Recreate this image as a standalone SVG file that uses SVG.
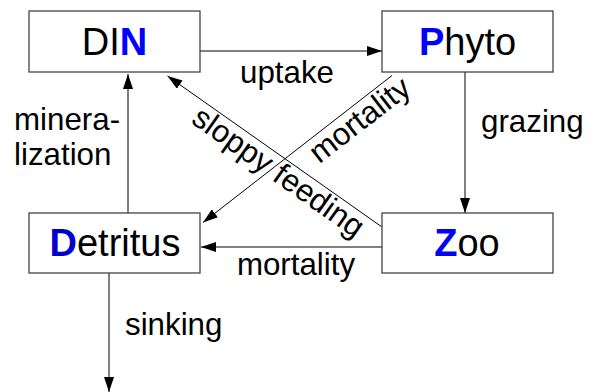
<svg xmlns="http://www.w3.org/2000/svg" width="596" height="392" viewBox="0 0 596 392">
<style>
  .box{fill:#fff;stroke:#444;stroke-width:1.3}
  .title{font-family:"Liberation Sans",Arial,sans-serif;font-size:38px;fill:#000;text-anchor:middle}
  .lbl{font-family:"Liberation Sans",Arial,sans-serif;font-size:31.3px;fill:#000}
  .conn{stroke:#000;stroke-width:1;fill:none;marker-end:url(#ah)}
  .b{fill:#0000ff;font-weight:bold}
  .bd{fill:#0000cc;font-weight:bold}
</style>
<defs>
  <marker id="ah" markerUnits="userSpaceOnUse" markerWidth="15" markerHeight="10" refX="15" refY="5" orient="auto">
    <path d="M0,0 L15,5 L0,10 z" fill="#000"/>
  </marker>
</defs>
<rect width="596" height="392" fill="#fff"/>
<g id="connectors">
  <line class="conn" x1="200" y1="51" x2="382" y2="51"/>
  <line class="conn" x1="128" y1="213" x2="128" y2="74"/>
  <line class="conn" x1="382" y1="227" x2="167.5" y2="76"/>
  <line class="conn" x1="392" y1="75.5" x2="203" y2="222.5"/>
  <line class="conn" x1="465" y1="72" x2="465" y2="213"/>
  <line class="conn" x1="382" y1="247" x2="201" y2="247"/>
  <line class="conn" x1="109" y1="273" x2="109" y2="392"/>
  <text class="lbl" x="287" y="83" text-anchor="middle">uptake</text>
  <text class="lbl" x="481" y="132">grazing</text>
  <text class="lbl" x="14" y="130">minera-</text>
  <text class="lbl" x="14" y="165">lization</text>
  <text class="lbl" x="125" y="335">sinking</text>
  <text class="lbl" x="296" y="275" text-anchor="middle">mortality</text>
  <text class="lbl" text-anchor="middle" transform="translate(272.5,180.5) rotate(35.2)">sloppy feeding</text>
  <text class="lbl" text-anchor="middle" transform="translate(366,128) rotate(-37.7)">mortality</text>
</g>
<g id="DIN">
  <rect class="box" x="29" y="11" width="171" height="61"/>
  <text class="title" x="114.5" y="55">DI<tspan class="b">N</tspan></text>
</g>
<g id="Phyto">
  <rect class="box" x="382" y="11" width="171" height="61"/>
  <text class="title" x="467.5" y="55"><tspan class="b">P</tspan>hyto</text>
</g>
<g id="Detritus">
  <rect class="box" x="29" y="213" width="171" height="60"/>
  <text class="title" x="115" y="256"><tspan class="bd">D</tspan>etritus</text>
</g>
<g id="Zoo">
  <rect class="box" x="382" y="213" width="171" height="60"/>
  <text class="title" x="467" y="256"><tspan class="b">Z</tspan>oo</text>
</g>
</svg>
